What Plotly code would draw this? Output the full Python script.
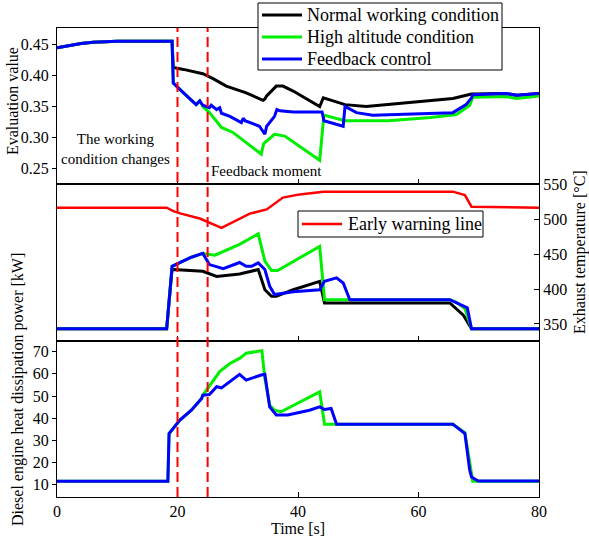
import plotly.graph_objects as go

FONT = "Liberation Serif"

# ---------------- Top panel: evaluation value ----------------
t_start = [0, 2, 4, 6, 8, 10, 19.1]
v_start = [0.445, 0.449, 0.452, 0.454, 0.455, 0.4555, 0.4555]

t_eval_normal = t_start + [19.3, 21, 24.2, 25.9, 28.1, 31.4, 34.2, 34.5, 34.8, 36.4, 37.5, 39.2,
                           43.6, 44.2, 47.8, 51.3, 58, 65.7, 68.8, 72, 74.5, 76.3, 80]
v_eval_normal = v_start + [0.413, 0.410, 0.403, 0.395, 0.383, 0.372, 0.360, 0.362, 0.367, 0.383, 0.383, 0.375,
                           0.350, 0.364, 0.353, 0.350, 0.356, 0.363, 0.370, 0.370, 0.371, 0.368, 0.371]

t_eval_high = t_start + [19.3, 21, 23.1, 23.7, 24.2, 25.3, 27.3, 29.2, 33.9, 34.3, 36.1, 37.8,
                         43.6, 44.3, 47.8, 55, 62, 66.3, 68.5, 69, 72, 74.5, 76.3, 80]
v_eval_high = v_start + [0.388, 0.372, 0.353, 0.359, 0.350, 0.340, 0.316, 0.308, 0.273, 0.290, 0.305, 0.302,
                         0.263, 0.336, 0.327, 0.327, 0.332, 0.337, 0.352, 0.365, 0.366, 0.366, 0.363, 0.367]

t_eval_fb = t_start + [19.3, 21, 23.1, 23.7, 24.2, 25.3, 25.6, 26.5, 27.0, 27.3, 28.7, 30.6, 30.9, 31.2,
                       33.6, 34.5, 34.8, 35.3, 36.1, 36.5, 37, 39.2, 43.6, 44.0, 44.3, 47.5, 47.8,
                       49.7, 52.4, 65.7, 67.9, 68.8, 69.0, 72, 74.5, 76.3, 80]
v_eval_fb = v_start + [0.388, 0.372, 0.353, 0.359, 0.352, 0.348, 0.352, 0.345, 0.348, 0.339, 0.334, 0.324, 0.331, 0.327,
                       0.318, 0.305, 0.318, 0.324, 0.334, 0.345, 0.343, 0.341, 0.340, 0.341, 0.327, 0.318, 0.350,
                       0.340, 0.336, 0.340, 0.353, 0.364, 0.369, 0.370, 0.371, 0.368, 0.371]

# ---------------- Middle panel: exhaust temperature ----------------
t_warn = [0, 18.2, 19.3, 20.6, 23.7, 27.3, 32, 34.8, 37.5, 40.3, 44.2, 65.7, 67.7, 68.8, 80]
T_warn = [516.5, 516.5, 511.6, 508, 501, 487.7, 508, 514, 531, 535.6, 539.5, 539.5, 534.6, 518, 516.5]

t_temp_normal = [0, 18.2, 19.1, 19.3, 24.2, 26.5, 30.3, 33.4, 34.5, 35.6, 36.4, 39.2, 43.6, 44.4,
                 65.2, 67.4, 68.8, 80]
T_temp_normal = [343, 343, 428, 428, 425.5, 418, 421.6, 427.8, 399, 389.5, 389.5, 399, 411, 380,
                 380, 363, 343, 343]

t_temp_high = [0, 18.2, 19.1, 22.3, 24.2, 26.2, 30.3, 33.4, 34.5, 35.6, 36.6, 43.6, 44.4,
               65.2, 66.3, 67.7, 68.8, 80]
T_temp_high = [343, 343, 432.6, 445.5, 451, 448.4, 464, 479, 440, 426.5, 426.5, 461, 384.7,
               384.7, 381, 372, 343, 343]

t_temp_fb = [0, 18.2, 19.1, 22.3, 24.2, 25.3, 27.6, 30.3, 31.4, 32.3, 33.4, 34.5, 35.3, 36.1, 39.2,
             41.9, 43.6, 44.4, 46.4, 47.5, 48.6, 65.2, 66.3, 67.7, 68.1, 68.8, 80]
T_temp_fb = [343, 343, 432.6, 445.5, 451, 435, 429.3, 438, 432.6, 432.6, 437.5, 428, 404, 392, 396,
             397.7, 399, 411, 416, 408.7, 384.7, 384.7, 380, 375, 373, 343, 343]

# ---------------- Bottom panel: heat dissipation power ----------------
t_pow_high = [0, 18.4, 18.6, 20.4, 22.3, 24.0, 24.2, 27.0, 28.7, 30.3, 31.4, 33.6, 34.0, 34.5, 35.3,
              36.1, 37.2, 43.6, 44.2, 44.4, 65.7, 67.7, 68.5, 69.0, 80]
P_pow_high = [11.5, 11.5, 33.1, 39.1, 43.6, 48.9, 50.4, 61, 64.7, 67, 69.3, 70.5, 70.5, 58, 45.9,
              43.6, 42.9, 51.9, 40.6, 37.3, 37.3, 33.5, 20, 11.5, 11.5]

t_pow_fb = [0, 18.4, 18.6, 20.4, 22.3, 24.0, 24.2, 25.3, 26.5, 27.3, 30.3, 31.4, 33.9, 34.5, 35.3,
            36.4, 38.3, 41.9, 43.6, 44.4, 45.5, 46.4, 65.7, 67.7, 68.5, 68.8, 69.9, 80]
P_pow_fb = [11.5, 11.5, 33.1, 39.1, 43.6, 48.9, 50.4, 50.7, 54.2, 53.7, 59.8, 57.2, 59.5, 59.8, 45.1,
            41.4, 41.4, 43.6, 45.1, 43.9, 44.4, 37.3, 37.3, 33.1, 16.5, 13.4, 11.6, 11.6]

x_ticks = [0, 20, 40, 60, 80]
eval_ticks = [0.25, 0.30, 0.35, 0.40, 0.45]
temp_ticks = [350, 400, 450, 500, 550]
pow_ticks = [10, 20, 30, 40, 50, 60, 70]
event_times = [20, 25]

legend1_names = ["Normal working condition", "High altitude condition", "Feedback control"]
legend2_names = ["Early warning line"]

BLACK = "#000000"
GREEN = "#00ee00"
BLUE = "#0000ff"
RED = "#ff0000"
LW = 3

# plot-area geometry (pixels) for placing the hand-drawn legend boxes
W, H = 589, 537
ML, MR, MT, MB = 57, 50, 28, 40
PW, PH = W - ML - MR, H - MT - MB


def px(xp):
    return (xp - ML) / PW


def py(yp):
    return (H - MB - yp) / PH


fig = go.Figure()

# top
fig.add_trace(go.Scatter(x=t_eval_normal, y=v_eval_normal, mode="lines", name=legend1_names[0],
                         line=dict(color=BLACK, width=LW), xaxis="x", yaxis="y", showlegend=False))
fig.add_trace(go.Scatter(x=t_eval_high, y=v_eval_high, mode="lines", name=legend1_names[1],
                         line=dict(color=GREEN, width=LW), xaxis="x", yaxis="y", showlegend=False))
fig.add_trace(go.Scatter(x=t_eval_fb, y=v_eval_fb, mode="lines", name=legend1_names[2],
                         line=dict(color=BLUE, width=LW), xaxis="x", yaxis="y", showlegend=False))
# middle
fig.add_trace(go.Scatter(x=t_warn, y=T_warn, mode="lines", name=legend2_names[0],
                         line=dict(color=RED, width=2.5), xaxis="x2", yaxis="y2", showlegend=False))
fig.add_trace(go.Scatter(x=t_temp_normal, y=T_temp_normal, mode="lines", showlegend=False,
                         line=dict(color=BLACK, width=LW), xaxis="x2", yaxis="y2"))
fig.add_trace(go.Scatter(x=t_temp_high, y=T_temp_high, mode="lines", showlegend=False,
                         line=dict(color=GREEN, width=LW), xaxis="x2", yaxis="y2"))
fig.add_trace(go.Scatter(x=t_temp_fb, y=T_temp_fb, mode="lines", showlegend=False,
                         line=dict(color=BLUE, width=LW), xaxis="x2", yaxis="y2"))
# bottom
fig.add_trace(go.Scatter(x=t_pow_high, y=P_pow_high, mode="lines", showlegend=False,
                         line=dict(color=GREEN, width=LW), xaxis="x3", yaxis="y3"))
fig.add_trace(go.Scatter(x=t_pow_fb, y=P_pow_fb, mode="lines", showlegend=False,
                         line=dict(color=BLUE, width=LW), xaxis="x3", yaxis="y3"))

axis_common = dict(showline=True, linecolor="black", linewidth=1, mirror=True,
                   showgrid=False, zeroline=False, tickcolor="black",
                   tickfont=dict(family=FONT, size=16, color="black"))

xcommon = dict(axis_common, range=[0, 80], tickvals=x_ticks, ticks="inside", ticklen=5, domain=[0, 1])

fig.update_layout(
    width=W, height=H,
    margin=dict(l=ML, r=MR, t=MT, b=MB, autoexpand=False),
    paper_bgcolor="white", plot_bgcolor="white",
    font=dict(family=FONT, size=16, color="black"),
    showlegend=False,
    xaxis=dict(xcommon, anchor="y", showticklabels=False),
    xaxis2=dict(xcommon, anchor="y2", showticklabels=False),
    xaxis3=dict(xcommon, anchor="y3", showticklabels=True,
                title=dict(text="Time [s]", font=dict(family=FONT, size=16), standoff=0)),
    yaxis=dict(axis_common, domain=[2/3, 1], anchor="x", range=[0.224, 0.477],
               tickvals=eval_ticks, tickformat=".2f", ticks="outside", ticklen=4),
    yaxis2=dict(axis_common, domain=[1/3, 2/3], anchor="x2", side="right", range=[326, 550],
                tickvals=temp_ticks, ticks="inside", ticklen=5),
    yaxis3=dict(axis_common, domain=[0, 1/3], anchor="x3", range=[4.4, 75],
                tickvals=pow_ticks, ticks="outside", ticklen=4),
)

for tv in event_times:
    fig.add_shape(type="line", x0=tv, x1=tv, xref="x", y0=0, y1=1, yref="paper",
                  line=dict(color=RED, width=2, dash="10px,5px"))

# ---- legend 1 (drawn as box + line samples + text) ----
fig.add_shape(type="rect", xref="paper", yref="paper", x0=px(258), x1=px(502), y0=py(70), y1=py(3),
              line=dict(color="black", width=1), fillcolor="white", layer="above")
for i, (nm, col) in enumerate(zip(legend1_names, [BLACK, GREEN, BLUE])):
    yy = 15 + 22 * i
    fig.add_shape(type="line", xref="paper", yref="paper", x0=px(262), x1=px(302), y0=py(yy), y1=py(yy),
                  line=dict(color=col, width=LW), layer="above")
    fig.add_annotation(text=nm, x=px(305), y=py(yy), xref="paper", yref="paper", showarrow=False,
                       xanchor="left", yanchor="middle", font=dict(family=FONT, size=18, color="black"))

# ---- legend 2 ----
fig.add_shape(type="rect", xref="paper", yref="paper", x0=px(298), x1=px(483), y0=py(237), y1=py(211),
              line=dict(color="black", width=1), fillcolor="white", layer="above")
fig.add_shape(type="line", xref="paper", yref="paper", x0=px(302), x1=px(342), y0=py(224), y1=py(224),
              line=dict(color=RED, width=2.5), layer="above")
fig.add_annotation(text=legend2_names[0], x=px(346), y=py(224), xref="paper", yref="paper", showarrow=False,
                   xanchor="left", yanchor="middle", font=dict(family=FONT, size=18, color="black"))

# ---- axis titles ----
fig.add_annotation(text="Evaluation value", x=px(12), y=py(101), xref="paper", yref="paper",
                   textangle=-90, showarrow=False, xanchor="center", yanchor="middle",
                   font=dict(family=FONT, size=16, color="black"))
fig.add_annotation(text="Diesel engine heat dissipation power [kW]", x=px(18), y=py(390),
                   xref="paper", yref="paper", textangle=-90, showarrow=False,
                   xanchor="center", yanchor="middle", font=dict(family=FONT, size=16, color="black"))
fig.add_annotation(text="Exhaust temperature [°C]", x=px(580), y=py(252), xref="paper", yref="paper",
                   textangle=-90, showarrow=False, xanchor="center", yanchor="middle",
                   font=dict(family=FONT, size=16, color="black"))

fig.add_annotation(text="The working<br>condition changes", x=9.7, y=0.281, xref="x", yref="y",
                   showarrow=False, font=dict(family=FONT, size=15, color="black"),
                   xanchor="center", yanchor="middle")
fig.add_annotation(text="Feedback moment", x=34.7, y=0.245, xref="x", yref="y",
                   showarrow=False, font=dict(family=FONT, size=15, color="black"),
                   xanchor="center", yanchor="middle")

fig.write_html("out.html")
